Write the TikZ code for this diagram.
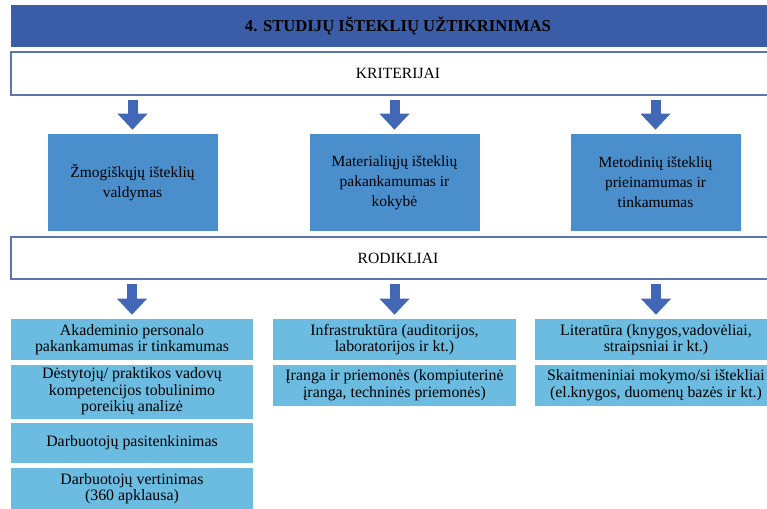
\documentclass[tikz,border=0pt]{standalone}
\usepackage{fontspec}
\setmainfont{Liberation Serif}
\usetikzlibrary{positioning,arrows.meta}
\definecolor{titleblue}{RGB}{59,93,168}
\definecolor{frameblue}{RGB}{92,116,178}
\definecolor{critblue}{RGB}{74,142,204}
\definecolor{indblue}{RGB}{108,188,226}
\definecolor{arrowblue}{RGB}{66,103,183}
\begin{document}
\begin{tikzpicture}[x=0.75pt,y=-0.75pt,node distance=3pt]

        % 样式
        \tikzstyle{titlebar} = [rectangle, minimum width=580.5pt, minimum height=31.5pt, inner sep=0pt, fill=titleblue, text=black, font=\fontsize{12.5}{15}\selectfont\bfseries]
        \tikzstyle{band} = [rectangle, minimum width=580.5pt, minimum height=31.5pt, inner sep=0pt, draw=frameblue, line width=1.3pt, fill=white, font=\fontsize{11.7}{14}\selectfont]
        \tikzstyle{criterion} = [rectangle, minimum width=127.5pt, minimum height=72.75pt, inner sep=1pt, fill=critblue, align=center, font=\fontsize{11.6}{15}\selectfont]
        \tikzstyle{indicator} = [rectangle, minimum width=181.5pt, inner sep=1pt, fill=indblue, align=center, font=\fontsize{11.9}{12.3}\selectfont]
        \tikzstyle{blockarrow} = [line width=7.5pt, draw=arrowblue, -{Triangle[length=12pt,width=21.75pt]}, shorten <=3pt, shorten >=3pt]

        \clip (0,0) rectangle (767,508);

        % 标题与框
        \node (title) [titlebar] at (398,26) {4. STUDIJŲ IŠTEKLIŲ UŽTIKRINIMAS};
        \node (krit) [band, minimum height=32.25pt] at (398,73.5) {KRITERIJAI};
        \node (human) [criterion] at (132.5,182.5) {Žmogiškųjų išteklių\\valdymas};
        \node (material) [criterion] at (394.5,182.5) {Materialiųjų išteklių\\pakankamumas ir\\kokybė};
        \node (method) [criterion] at (655.5,182.5) {Metodinių išteklių\\prieinamumas ir\\tinkamumas};
        \node (rod) [band] at (398,258) {RODIKLIAI};

        % rodikliai
        \node (akad) [indicator, minimum height=30.75pt] at (132,339.5) {Akademinio personalo\\pakankamumas ir tinkamumas};
        \node (dest) [indicator, minimum height=40.5pt, below=of akad] {Dėstytojų/ praktikos vadovų\\kompetencijos tobulinimo\\poreikių analizė};
        \node (pasit) [indicator, minimum height=30pt, below=of dest] {Darbuotojų pasitenkinimas};
        \node (vert) [indicator, minimum height=31.5pt, below=of pasit] {Darbuotojų vertinimas\\(360 apklausa)};

        \node (infra) [indicator, minimum width=182.25pt, minimum height=30.75pt] at (394.5,339.5) {Infrastruktūra (auditorijos,\\laboratorijos ir kt.)};
        \node (iranga) [indicator, minimum width=182.25pt, minimum height=30.75pt, below=of infra] {Įranga ir priemonės (kompiuterinė\\įranga, techninės priemonės)};

        \node (lit) [indicator, minimum height=30.75pt] at (656,339.5) {Literatūra (knygos,vadovėliai,\\straipsniai ir kt.)};
        \node (skait) [indicator, minimum height=30.75pt, below=of lit] {Skaitmeniniai mokymo/si ištekliai\\(el.knygos, duomenų bazės ir kt.)};

        % 箭头
        \draw [blockarrow] (krit.south -| human.north) -- (human.north);
        \draw [blockarrow] (krit.south -| material.north) -- (material.north);
        \draw [blockarrow] (krit.south -| method.north) -- (method.north);
        \draw [blockarrow] (rod.south -| akad.north) -- (akad.north);
        \draw [blockarrow] (rod.south -| infra.north) -- (infra.north);
        \draw [blockarrow] (rod.south -| lit.north) -- (lit.north);

    \end{tikzpicture}
\end{document}
